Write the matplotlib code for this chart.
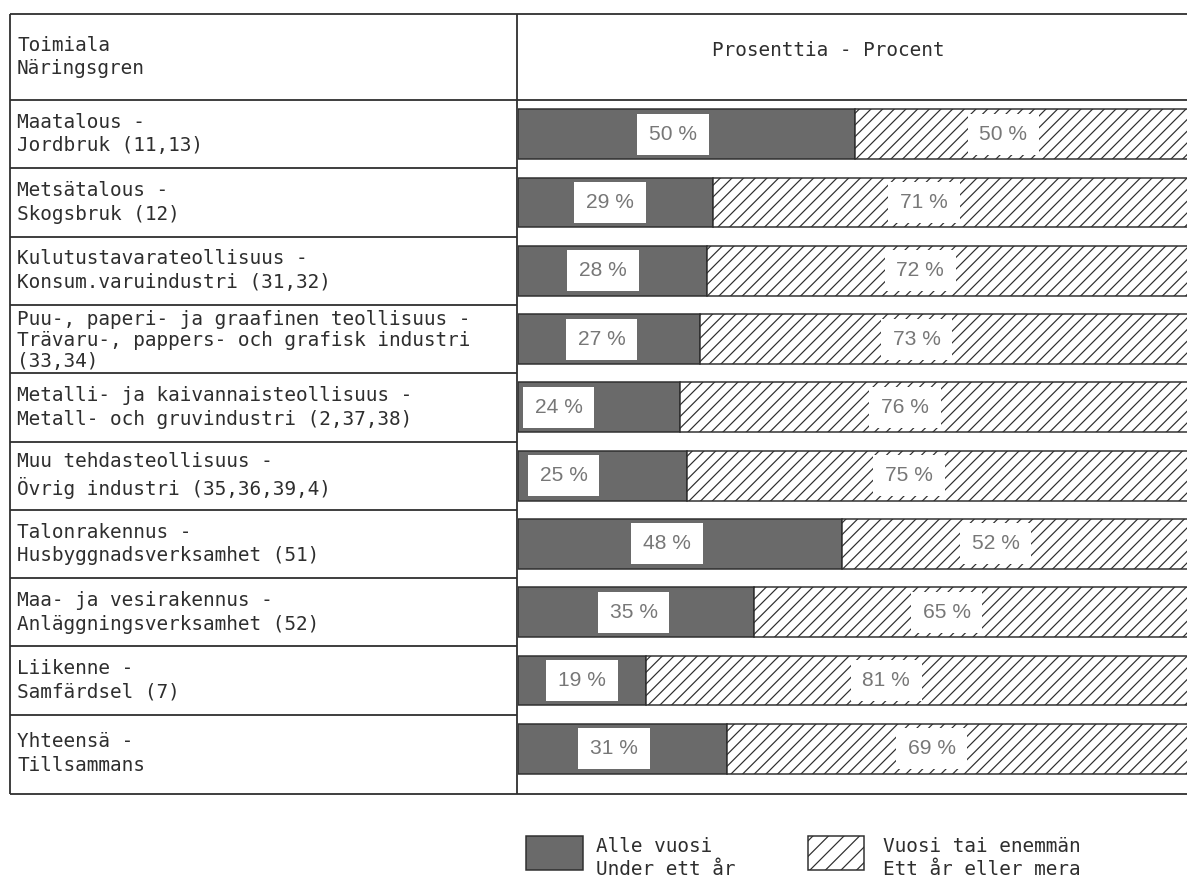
import matplotlib
matplotlib.use("Agg")
import matplotlib.pyplot as plt
from matplotlib.patches import Rectangle
from matplotlib import transforms

# ---------------- data ----------------
header_left = "Toimiala\nNäringsgren"
header_right = "Prosenttia - Procent"
row_labels = [
    "Maatalous -\nJordbruk (11,13)",
    "Metsätalous -\nSkogsbruk (12)",
    "Kulutustavarateollisuus -\nKonsum.varuindustri (31,32)",
    "Puu-, paperi- ja graafinen teollisuus -\nTrävaru-, pappers- och grafisk industri\n(33,34)",
    "Metalli- ja kaivannaisteollisuus -\nMetall- och gruvindustri (2,37,38)",
    "Muu tehdasteollisuus -\nÖvrig industri (35,36,39,4)",
    "Talonrakennus -\nHusbyggnadsverksamhet (51)",
    "Maa- ja vesirakennus -\nAnläggningsverksamhet (52)",
    "Liikenne -\nSamfärdsel (7)",
    "Yhteensä -\nTillsammans",
]
under_year = [50, 29, 28, 27, 24, 25, 48, 35, 19, 31]
year_or_more = [50, 71, 72, 73, 76, 75, 52, 65, 81, 69]
legend_labels = ["Alle vuosi\nUnder ett år", "Vuosi tai enemmän\nEtt år eller mera"]

# ---------------- style ----------------
W, H, DPI = 1187, 882, 140
def pt(px):
    return px * 72.0 / DPI

plt.rcParams["hatch.linewidth"] = pt(1.2)
INK = "#2e2e2e"
DARK = "#6a6a6a"
MONO = "DejaVu Sans Mono"
LBL_FONT = "Liberation Sans"
LW = pt(1.8)
FS = pt(19.4)
LS = 1.3
# where the value box sits inside each dark segment (fraction of segment)
dark_label_frac = [0.46, 0.47, 0.45, 0.46, 0.25, 0.27, 0.46, 0.49, 0.5, 0.46]
hatch_label_frac = 0.44

fig = plt.figure(figsize=(W / DPI, H / DPI), dpi=DPI)
fig.patch.set_facecolor("white")

# overlay in pixel coordinates for the table frame
ov = fig.add_axes([0, 0, 1, 1])
ov.set_xlim(0, W)
ov.set_ylim(H, 0)
ov.axis("off")

x_left, x_div, x_right = 10, 517, W
y_top, y_head, y_bot = 14, 100, 794
row_h = 68.3
n = len(row_labels)

# bar axes: rows of equal height starting below header
ax = fig.add_axes([518 / W, (H - (y_head + n * row_h)) / H, (1192 - 518) / W, n * row_h / H])
ax.set_xlim(0, 100)
ax.set_ylim(n - 0.5, -0.5)
ax.axis("off")
ax.patch.set_alpha(0)

# frame lines
for y in (y_top, y_head, y_bot):
    ov.plot([x_left, x_right], [y, y], color=INK, lw=LW, solid_capstyle="butt")
for x in (x_left, x_div):
    ov.plot([x, x], [y_top, y_bot], color=INK, lw=LW, solid_capstyle="butt")
for k in range(1, n):
    yy = y_head + k * row_h
    ov.plot([x_left, x_div], [yy, yy], color=INK, lw=LW, solid_capstyle="butt")

# header texts
ov.text(17, (y_top + y_head) / 2, header_left, ha="left", va="center",
        family=MONO, fontsize=FS, color=INK, linespacing=LS)
ov.text(828, 50, header_right, ha="center", va="center",
        family=MONO, fontsize=FS, color=INK)

# row labels (y follows bar rows)
blend = transforms.blended_transform_factory(ov.transData, ax.transData)
for i, lab in enumerate(row_labels):
    if lab.count("\n") == 2:
        ov.text(17, i - 0.5 + 0.08, lab, transform=blend, ha="left", va="top",
                family=MONO, fontsize=FS, color=INK, linespacing=1.12)
    else:
        yc = i + (0.07 if i == n - 1 else 0.0)
        ov.text(17, yc, lab, transform=blend, ha="left", va="center",
                family=MONO, fontsize=FS, color=INK, linespacing=LS)

# bars
ys = list(range(n))
bar_h = 0.73
ax.barh(ys, under_year, height=bar_h, color=DARK, edgecolor=INK, linewidth=pt(1.5))
ax.barh(ys, year_or_more, left=under_year, height=bar_h, color="white",
        edgecolor=INK, linewidth=pt(1.5), hatch="////")

# value labels in white boxes
box_w, box_h = 10.6, 0.6
for i, (u, m) in enumerate(zip(under_year, year_or_more)):
    for xc, v in ((u * dark_label_frac[i], u), (u + m * hatch_label_frac, m)):
        ax.add_patch(Rectangle((xc - box_w / 2, i - box_h / 2), box_w, box_h,
                               facecolor="white", edgecolor="none", zorder=3))
        ax.text(xc, i, f"{v} %", ha="center", va="center", zorder=4,
                family=LBL_FONT, fontsize=pt(21), color="#777777")

# legend
ov.add_patch(Rectangle((526, 836), 57, 34, facecolor=DARK, edgecolor=INK, lw=pt(1.5)))
ov.text(596, 858, legend_labels[0], ha="left", va="center", family=MONO,
        fontsize=FS, color=INK, linespacing=LS)
ov.add_patch(Rectangle((808, 836), 56, 34, facecolor="white", edgecolor=INK,
                       lw=pt(1.5), hatch="///"))
ov.text(883, 858, legend_labels[1], ha="left", va="center", family=MONO,
        fontsize=FS, color=INK, linespacing=LS)

fig.savefig("out.png", dpi=DPI, facecolor="white")
